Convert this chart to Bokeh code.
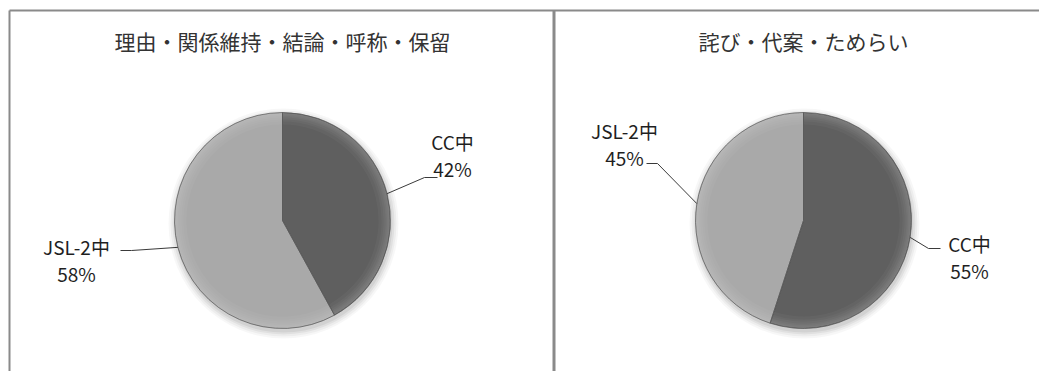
import math

from bokeh.core.properties import value
from bokeh.embed import file_html
from bokeh.models import ColumnDataSource, Range1d
from bokeh.plotting import figure
from bokeh.resources import INLINE

# ---- data -------------------------------------------------------------
categories = ["CC中", "JSL-2中"]
titles = ["理由・関係維持・結論・呼称・保留", "詫び・代案・ためらい"]
left_values = [42, 58]    # percent per category, first panel
right_values = [55, 45]   # percent per category, second panel

# ---- styling ----------------------------------------------------------
slice_colors = ["#5f5f5f", "#a9a9a9"]
FONT = value("Noto Sans CJK JP")
W, H = 1039, 371


def Y(yp):
    """Convert a top-down pixel row into the figure's y coordinate."""
    return H - yp


p = figure(width=W, height=H, x_range=Range1d(0, W), y_range=Range1d(0, H),
           output_backend="svg", toolbar_location=None, min_border=0,
           x_axis_location=None, y_axis_location=None)
p.grid.visible = False
p.outline_line_color = None
p.background_fill_color = "white"
p.border_fill_color = "white"

# panel frames
frame_color = "#8a8a8a"
p.line([9, 9], [Y(10), Y(H + 5)], line_color=frame_color, line_width=2)
p.line([9, W + 5], [Y(10), Y(10)], line_color=frame_color, line_width=2)
p.line([553.5, 553.5], [Y(10), Y(H + 5)], line_color=frame_color, line_width=3)

R = 108


def draw_pie(cx, cy, vals, title, label_layout):
    total = float(sum(vals))
    starts, ends = [], []
    angle = math.pi / 2
    for v in vals:
        a = 2 * math.pi * v / total
        ends.append(angle)
        starts.append(angle - a)
        angle -= a

    # soft drop shadow
    for k, alpha in [(7, 0.03), (5, 0.04), (3, 0.05), (1, 0.06)]:
        p.circle(x=[cx + 1], y=[Y(cy + 3)], radius=R + k, radius_units="screen",
                 fill_color="#000000", fill_alpha=alpha, line_color=None)

    src = ColumnDataSource(dict(
        x=[cx] * len(vals), y=[Y(cy)] * len(vals),
        start=starts, end=ends, color=slice_colors,
        cat=categories, val=vals,
    ))
    p.wedge(x="x", y="y", radius=R, radius_units="screen",
            start_angle="start", end_angle="end", direction="anticlock",
            fill_color="color", line_color=None, source=src)

    # bevelled rim, fading in towards the edge
    for inner in [R - 12, R - 9, R - 7, R - 5, R - 3.5, R - 2]:
        p.annular_wedge(x="x", y="y", inner_radius=inner, outer_radius=R - 0.5,
                        inner_radius_units="screen", outer_radius_units="screen",
                        start_angle="start", end_angle="end", direction="anticlock",
                        fill_color="#ffffff", fill_alpha=0.035, line_color=None,
                        source=src)
    p.wedge(x="x", y="y", radius=R, radius_units="screen",
            start_angle="start", end_angle="end", direction="anticlock",
            fill_color=None, line_color="#555555", line_width=0.7, source=src)

    # title
    p.text(x=[cx], y=[Y(40)], text=[title], text_align="center",
           text_baseline="middle", text_font=FONT, text_font_size="21px",
           text_color="#333333")

    # data labels with leader lines
    for i, (cat, v) in enumerate(zip(categories, vals)):
        mid = (starts[i] + ends[i]) / 2
        ex = cx + R * math.cos(mid)
        ey = Y(cy) + R * math.sin(mid)
        lx, ly, elbow = label_layout[i]
        (ax, ay), (bx, by) = elbow
        if ex > cx:
            xs = [ex, ax, bx]
            ys = [ey, Y(ay), Y(by)]
        else:
            xs = [ax, bx, ex]
            ys = [Y(ay), Y(by), ey]
        p.line(xs, ys, line_color="#3a3a3a", line_width=1)
        p.text(x=[lx, lx], y=[Y(ly), Y(ly + 27)], text=[cat, f"{v}%"],
               text_align="center", text_baseline="middle", text_font=FONT,
               text_font_size="19px", text_color="#1f1f1f")


# label centre (x, first-line y) and the horizontal elbow of each leader
left_layout = [
    (452, 141, ((424, 177), (437, 177))),
    (76, 246, ((120, 250), (131, 250))),
]
right_layout = [
    (969, 243, ((928, 248), (940, 248))),
    (624, 130, ((646, 163), (657, 163))),
]

draw_pie(282, 220, left_values, titles[0], left_layout)
draw_pie(803, 220, right_values, titles[1], right_layout)

open("out.html", "w").write(file_html(p, INLINE))
